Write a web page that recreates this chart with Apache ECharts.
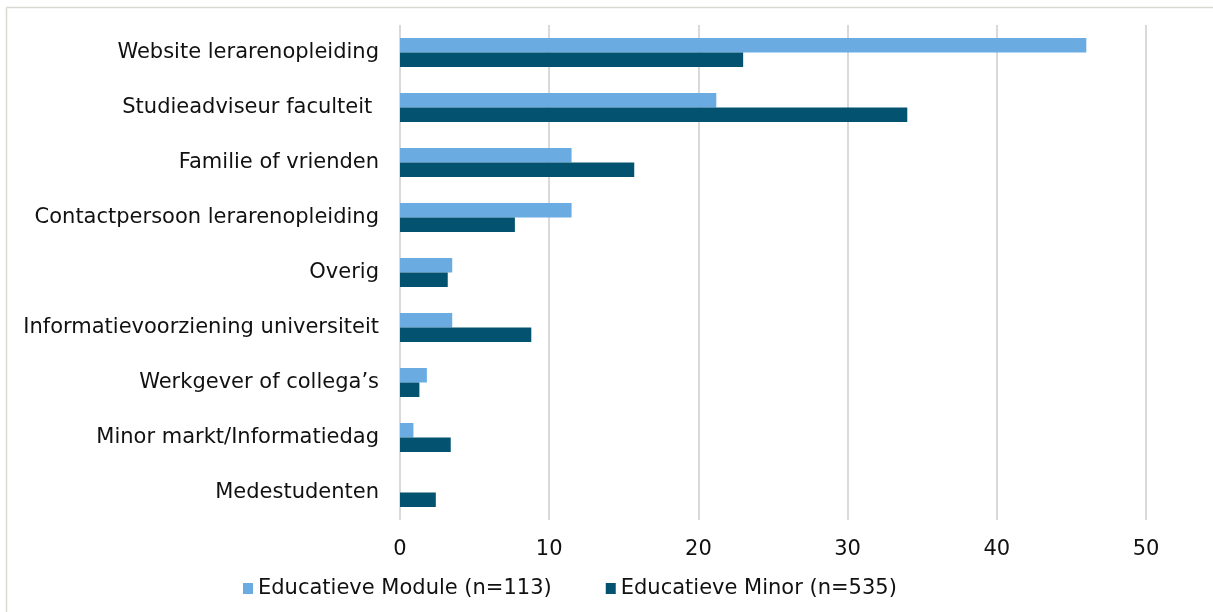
<!DOCTYPE html>
<html>
<head>
<meta charset="utf-8">
<script src="https://cdn.jsdelivr.net/npm/echarts@6/dist/echarts.min.js"></script>
<style>
  html, body { margin: 0; padding: 0; background: #fff; }
  #chart { width: 1213px; height: 612px; }
</style>
</head>
<body>
<div id="chart"></div>
<script>
// categories, top to bottom as in the picture
const categories = [
  "Website lerarenopleiding",
  "Studieadviseur faculteit ",
  "Familie of vrienden",
  "Contactpersoon lerarenopleiding",
  "Overig",
  "Informatievoorziening universiteit",
  "Werkgever of collega\u2019s",
  "Minor markt/Informatiedag",
  "Medestudenten"
];
const moduleValues = [46.0, 21.2, 11.5, 11.5, 3.5, 3.5, 1.8, 0.9, 0];
const minorValues = [23.0, 34.0, 15.7, 7.7, 3.2, 8.8, 1.3, 3.4, 2.4];
const seriesNames = ["Educatieve Module (n=113)", "Educatieve Minor (n=535)"];
const xTicks = { min: 0, max: 50, interval: 10 };

const chart = echarts.init(document.getElementById("chart"));
const font = "DejaVu Sans, Verdana, sans-serif";

// echarts category axis draws bottom-up, so reverse
const cats = categories.slice().reverse();
const mod = moduleValues.slice().reverse();
const min = minorValues.slice().reverse();

const option = {
  animation: false,
  textStyle: { fontFamily: font },
  grid: { left: 400, right: 67, top: 25, height: 495 },
  legend: {
    top: 578,
    left: 243,
    padding: 0,
    itemWidth: 10,
    itemHeight: 11,
    itemGap: 54,
    icon: "rect",
    textStyle: { fontSize: 21, color: "#111", fontFamily: font },
    data: seriesNames
  },
  xAxis: {
    type: "value",
    min: xTicks.min,
    max: xTicks.max,
    interval: xTicks.interval,
    axisLine: { show: false },
    axisTick: { show: false },
    axisLabel: { fontSize: 21, color: "#111", margin: 19 },
    splitLine: { lineStyle: { color: "#d9d9d9", width: 2 } }
  },
  yAxis: {
    type: "category",
    data: cats,
    axisLine: { show: false },
    axisTick: { show: false },
    axisLabel: { fontSize: 21, color: "#111", margin: 21 }
  },
  series: [
    {
      name: seriesNames[0],
      type: "bar",
      data: mod,
      barWidth: 14.5,
      barGap: "0%",
      itemStyle: { color: "#6aace2" }
    },
    {
      name: seriesNames[1],
      type: "bar",
      data: min,
      barWidth: 14.5,
      itemStyle: { color: "#025270" }
    }
  ],
  // outer frame: only top and left edges are visible
  graphic: [
    { type: "line", shape: { x1: 6.5, y1: 7.5, x2: 1213, y2: 7.5 }, style: { stroke: "#d9d9d2", lineWidth: 1.5 } },
    { type: "line", shape: { x1: 6.5, y1: 7.5, x2: 6.5, y2: 612 }, style: { stroke: "#d9d9d2", lineWidth: 1.5 } }
  ]
};
chart.setOption(option);
</script>
</body>
</html>
